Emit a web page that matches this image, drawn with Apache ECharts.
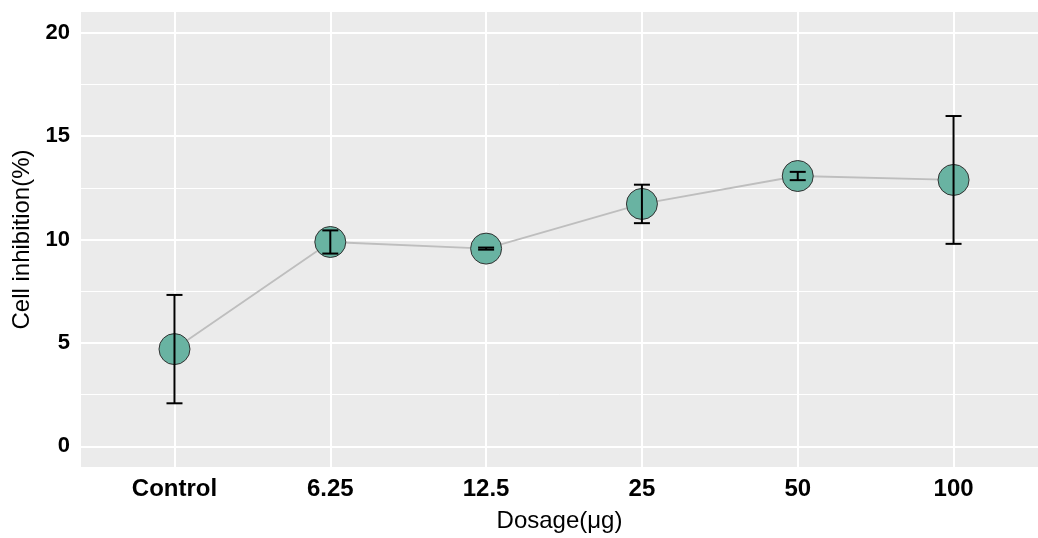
<!DOCTYPE html>
<html>
<head>
<meta charset="utf-8">
<script src="https://cdn.jsdelivr.net/npm/echarts@6/dist/echarts.min.js"></script>
<style>
  html, body { margin: 0; padding: 0; background: #fff; }
  #chart { width: 1038px; height: 538px; }
</style>
</head>
<body>
<div id="chart"></div>
<script>
// Dosage groups and measured inhibition (mean ± sd)
const categories = ['Control', '6.25', '12.5', '25', '50', '100'];
const means = [4.70, 9.88, 9.56, 11.72, 13.07, 12.88];
const sds = [2.62, 0.56, 0.05, 0.93, 0.20, 3.09];

// Y-axis ticks
const yMajor = [0, 5, 10, 15, 20];
const yMinor = [2.5, 7.5, 12.5, 17.5];

const idx = categories.map((_, i) => i);
const points = means.map((m, i) => [i, m]);
const bars = means.map((m, i) => [i, m - sds[i], m + sds[i]]);

const chart = echarts.init(document.getElementById('chart'), null, { renderer: 'canvas' });

const gridLines = [
  ...yMinor.map(v => ({ yAxis: v, lineStyle: { width: 1 } })),
  ...yMajor.map(v => ({ yAxis: v, lineStyle: { width: 2 } })),
  ...idx.map(i => ({ xAxis: i, lineStyle: { width: 2 } }))
];

chart.setOption({
  animation: false,
  backgroundColor: '#ffffff',
  grid: {
    left: 81, top: 12, right: 0, height: 456,
    show: true, backgroundColor: '#EBEBEB', borderWidth: 0
  },
  xAxis: {
    type: 'value', min: -0.6, max: 5.542,
    name: 'Dosage(μg)', nameLocation: 'middle', nameGap: 42,
    nameTextStyle: { fontFamily: 'Liberation Sans', fontSize: 24, color: '#000' },
    axisLine: { show: false },
    splitLine: { show: false },
    axisTick: { show: true, customValues: idx, length: 6, lineStyle: { color: '#333', width: 1.5 } },
    axisLabel: {
      customValues: idx, margin: 10,
      formatter: v => categories[Math.round(v)],
      fontFamily: 'Liberation Sans', fontWeight: 'bold', fontSize: 24, color: '#000'
    }
  },
  yAxis: {
    type: 'value', min: -1, max: 21,
    name: 'Cell inhibition(%)', nameLocation: 'middle', nameRotate: 90, nameGap: 46,
    nameTextStyle: { fontFamily: 'Liberation Sans', fontSize: 24, color: '#000' },
    axisLine: { show: false },
    splitLine: { show: false },
    axisTick: { show: true, customValues: yMajor, length: 5, lineStyle: { color: '#333', width: 1.5 } },
    axisLabel: {
      customValues: yMajor, margin: 11,
      fontFamily: 'Liberation Sans', fontWeight: 'bold', fontSize: 22, color: '#000'
    }
  },
  series: [
    {
      // white panel grid lines
      type: 'line', data: [], silent: true, z: 1,
      markLine: {
        silent: true, symbol: 'none', label: { show: false },
        lineStyle: { color: '#ffffff', type: 'solid' },
        data: gridLines
      }
    },
    {
      type: 'line', data: points, z: 10,
      symbol: 'none',
      lineStyle: { color: '#BEBEBE', width: 1.8 }
    },
    {
      type: 'scatter', data: points, z: 11,
      symbol: 'circle', symbolSize: 31,
      itemStyle: { color: '#69B3A2', borderColor: '#333333', borderWidth: 1, opacity: 1 }
    },
    {
      type: 'custom', data: bars, z: 12,
      renderItem: (params, api) => {
        const x = api.value(0);
        const lo = api.coord([x, api.value(1)]);
        const hi = api.coord([x, api.value(2)]);
        const hw = 8;
        const style = { stroke: '#000', lineWidth: 2 };
        return {
          type: 'group',
          children: [
            { type: 'line', shape: { x1: lo[0], y1: lo[1], x2: hi[0], y2: hi[1] }, style },
            { type: 'line', shape: { x1: lo[0] - hw, y1: lo[1], x2: lo[0] + hw, y2: lo[1] }, style },
            { type: 'line', shape: { x1: hi[0] - hw, y1: hi[1], x2: hi[0] + hw, y2: hi[1] }, style }
          ]
        };
      }
    }
  ]
});
</script>
</body>
</html>
